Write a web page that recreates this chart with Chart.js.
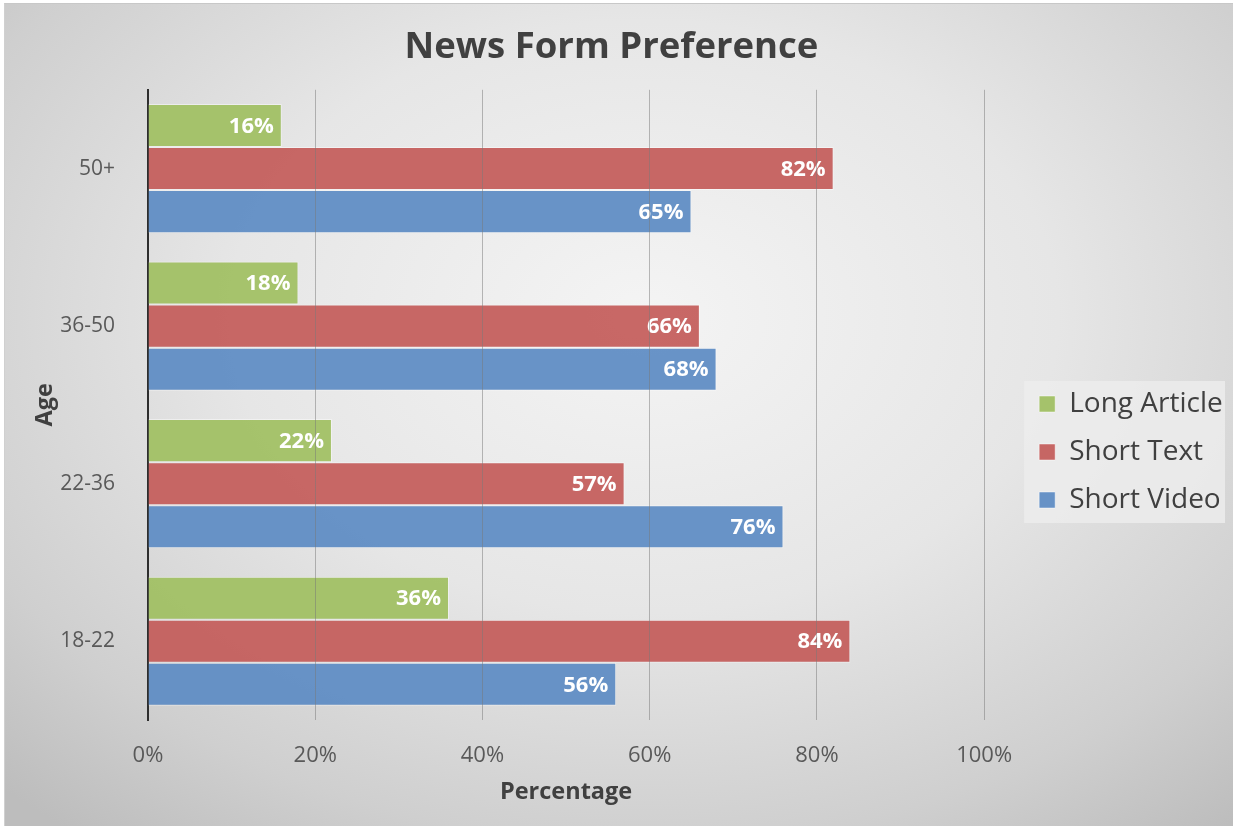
<!DOCTYPE html>
<html>
<head>
<meta charset="utf-8">
<script src="https://cdn.jsdelivr.net/npm/chart.js@4.4.1/dist/chart.umd.min.js"></script>
<style>
  html, body { margin: 0; padding: 0; background: #fff; }
  #wrap { position: relative; width: 1233px; height: 826px; overflow: hidden; }
  #bg {
    position: absolute; left: 4px; top: 3px; right: 0; bottom: 0;
    background: radial-gradient(ellipse 75% 80% at 52% 38%, #f4f4f4 0%, #e6e6e6 45%, #cfcfcf 80%, #bdbdbd 100%);
    border-top: 1px solid #c8c8c8; border-left: 1px solid #d0d0d0;
  }
  canvas { position: absolute; left: 0; top: 0; }
</style>
</head>
<body>
<div id="wrap">
  <div id="bg"></div>
  <canvas id="chart" width="1233" height="826"></canvas>
</div>
<script>
// age groups, top to bottom
const ageGroups = ['50+', '36-50', '22-36', '18-22'];

// share of each age group preferring the format (%)
const longArticle = [16, 18, 22, 36];
const shortText = [82, 66, 57, 84];
const shortVideo = [65, 68, 76, 56];

const xTicks = [0, 20, 40, 60, 80, 100];

const FONT = '"Open Sans", "Noto Sans", sans-serif';

// white value labels inside the end of each bar
const barValueLabels = {
  id: 'barValueLabels',
  afterDatasetsDraw(chart) {
    const ctx = chart.ctx;
    ctx.save();
    ctx.font = 'bold 22px ' + FONT;
    ctx.fillStyle = '#ffffff';
    ctx.textAlign = 'right';
    ctx.textBaseline = 'middle';
    chart.data.datasets.forEach((ds, i) => {
      chart.getDatasetMeta(i).data.forEach((bar, j) => {
        ctx.fillText(ds.data[j] + '%', bar.x - 8, bar.y + 1);
      });
    });
    ctx.restore();
  }
};

// light panel behind the legend entries
const legendPanel = {
  id: 'legendPanel',
  beforeDraw(chart) {
    const boxes = chart.legend && chart.legend.legendHitBoxes;
    if (!boxes || !boxes.length) return;
    const top = Math.min(...boxes.map(b => b.top)) - 9;
    const bottom = Math.max(...boxes.map(b => b.top + b.height)) + 9;
    const left = Math.min(...boxes.map(b => b.left)) - 15;
    const right = chart.width - 8;
    const ctx = chart.ctx;
    ctx.save();
    ctx.fillStyle = 'rgba(236,236,236,0.85)';
    ctx.fillRect(left, top, right - left, bottom - top);
    ctx.restore();
  }
};

new Chart(document.getElementById('chart'), {
  type: 'bar',
  data: {
    labels: ageGroups,
    datasets: [
      { label: 'Long Article', data: longArticle, backgroundColor: 'rgba(160,192,98,0.93)' },
      { label: 'Short Text', data: shortText, backgroundColor: 'rgba(196,92,90,0.93)' },
      { label: 'Short Video', data: shortVideo, backgroundColor: 'rgba(94,140,196,0.93)' }
    ]
  },
  options: {
    indexAxis: 'y',
    responsive: false,
    animation: false,
    layout: { padding: { left: 0, right: 10, top: 0, bottom: 0 } },
    datasets: {
      bar: {
        barPercentage: 1,
        categoryPercentage: 0.82,
        borderWidth: 1,
        borderColor: 'rgba(255,255,255,0.45)',
        borderSkipped: 'start'
      }
    },
    scales: {
      x: {
        min: 0,
        max: 100,
        afterBuildTicks(scale) {
          scale.ticks = xTicks.map(v => ({ value: v }));
        },
        afterFit(scale) { scale.height = 106; },
        grid: {
          color: ctx => ctx.index === 0 ? 'rgba(0,0,0,0)' : 'rgba(120,120,120,0.5)',
          lineWidth: 1,
          drawTicks: false,
          z: 1
        },
        border: { display: false },
        ticks: {
          padding: 23,
          color: '#595959',
          font: { family: FONT, size: 22 },
          callback: v => v + '%'
        },
        title: {
          display: true,
          text: 'Percentage',
          color: '#404040',
          font: { family: FONT, size: 23.5, weight: 'bold' },
          padding: { top: 0, bottom: 20 }
        }
      },
      y: {
        afterFit(scale) { scale.width = 148; },
        grid: { display: false },
        border: { display: true, color: '#2e2e2e', width: 2 },
        ticks: {
          padding: 25,
          color: '#595959',
          font: { family: FONT, size: 21 }
        },
        title: {
          display: true,
          text: 'Age',
          color: '#404040',
          font: { family: FONT, size: 23.5, weight: 'bold' },
          padding: { top: 31, bottom: 0 }
        }
      },
      // empty band between the plot and the legend
      gap: {
        axis: 'y',
        type: 'category',
        position: 'right',
        afterFit(scale) { scale.width = 35; },
        grid: { display: false },
        border: { display: false },
        ticks: { display: false }
      }
    },
    plugins: {
      title: {
        display: true,
        text: 'News Form Preference',
        color: '#404040',
        font: { family: FONT, size: 36.5, weight: 'bold' },
        padding: { top: 26, bottom: 20 }
      },
      legend: {
        position: 'right',
        align: 'center',
        // blank title only pushes the entries down a little
        title: { display: true, text: '', font: { size: 10 }, padding: 33 },
        labels: {
          color: '#404040',
          font: { family: FONT, size: 28 },
          boxWidth: 16,
          boxHeight: 16,
          padding: 20
        }
      },
      tooltip: { enabled: false }
    }
  },
  plugins: [legendPanel, barValueLabels]
});
</script>
</body>
</html>
